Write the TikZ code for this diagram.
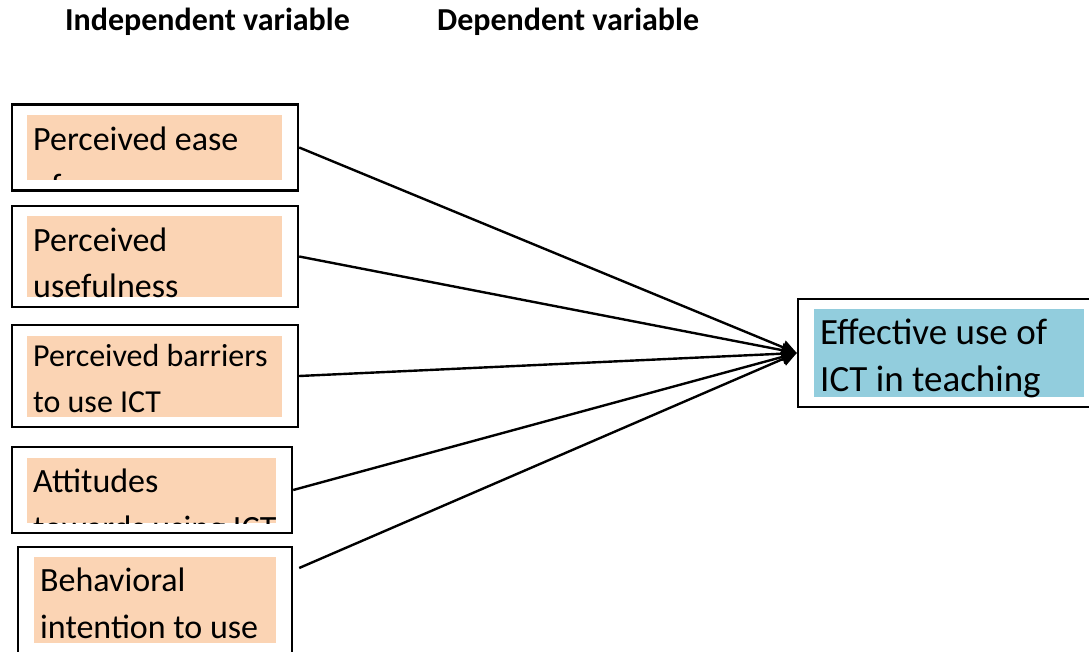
\documentclass[tikz,border=0pt]{standalone}
\usepackage{fontspec}
\setmainfont{Carlito}
\usetikzlibrary{arrows.meta,calc}
\definecolor{peach}{RGB}{251,212,180}
\definecolor{aqua}{RGB}{146,205,221}

\begin{document}
\begin{tikzpicture}[x=1pt,y=-1pt,
  outer/.style={draw,line width=2.4pt,inner sep=0pt},
  txt/.style={align=left,anchor=base west,inner sep=0pt,font=\fontsize{34}{47}\selectfont},
  head/.style={font=\fontsize{32}{36}\selectfont\bfseries,anchor=base west,inner sep=0pt},
  arr/.style={-{Triangle[length=15pt,width=14pt]},line width=2.4pt}]
\clip (0,0) rectangle (1089,652);
% headings
\node[head] (iv) at (65,31) {Independent variable};
\node[head] (dv) at (437,31) {Dependent variable};
% independent variables (text nodes sit on the baseline of their last line)
\node[outer,minimum width=286pt,minimum height=86pt] (pe) at (155,147.5) {};
\begin{scope}
  \clip (27,115) rectangle (282,180);
  \fill[peach] (27,115) rectangle (282,180);
  \node[txt] (pet) at (33,198) {Perceived ease\\of use};
\end{scope}
\node[outer,minimum width=286pt,minimum height=101pt] (pu) at (155,256.5) {};
\begin{scope}
  \clip (27,216) rectangle (282,297);
  \fill[peach] (27,216) rectangle (282,297);
  \node[txt] (put) at (33,298) {Perceived\\usefulness};
\end{scope}
\node[outer,minimum width=286pt,minimum height=102pt] (pb) at (155,376) {};
\begin{scope}
  \clip (27,336) rectangle (282,417);
  \fill[peach] (27,336) rectangle (282,417);
  \node[txt,font=\fontsize{32}{46}\selectfont] (pbt) at (33,412) {Perceived barriers\\to use ICT};
\end{scope}
\node[outer,minimum width=280pt,minimum height=86pt] (at) at (152,490) {};
\begin{scope}
  \clip (27,458) rectangle (276,523);
  \fill[peach] (27,458) rectangle (276,523);
  \node[txt] (att) at (33,539) {Attitudes\\towards using ICT};
\end{scope}
\node[outer,minimum width=274pt,minimum height=153pt] (bi) at (155,623.5) {};
\begin{scope}
  \clip (34,557) rectangle (276,643);
  \fill[peach] (34,557) rectangle (276,643);
  \node[txt] (bit) at (40,638) {Behavioral\\intention to use};
\end{scope}
% dependent variable
\node[outer,minimum width=302pt,minimum height=108pt] (ef) at (949,353) {};
\begin{scope}
  \clip (814,309) rectangle (1084,397);
  \fill[aqua] (814,309) rectangle (1084,397);
  \node[txt,font=\fontsize{37}{47}\selectfont] (eft) at (820,391) {Effective use of\\ICT in teaching};
\end{scope}
% connectors
\coordinate (bi-out) at ($(bi.east)+(6,-55.5)$);
\foreach \b in {pe,pu,pb,at}
  \draw[arr] (\b.east) -- (ef.west);
\draw[arr] (bi-out) -- (ef.west);
\end{tikzpicture}
\end{document}
